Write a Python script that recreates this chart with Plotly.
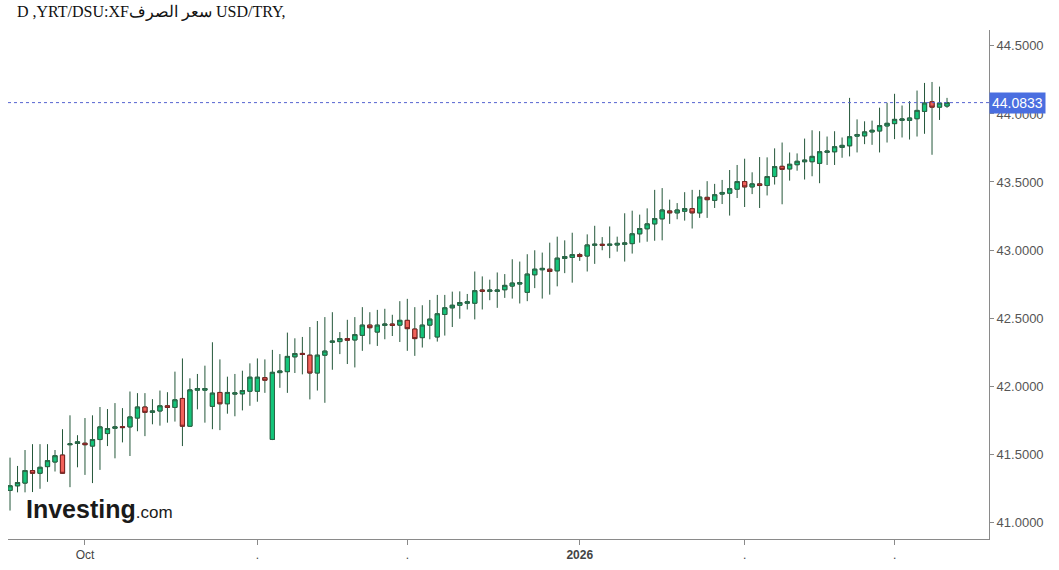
import pandas as pd
import plotly.graph_objects as go

# ---- data ----
dates = pd.bdate_range("2025-09-17", periods=126).strftime("%Y-%m-%d").tolist()

opens = [41.233, 41.267, 41.287, 41.379, 41.359, 41.408, 41.442, 41.493, 41.569, 41.578,
         41.580, 41.559, 41.607, 41.651, 41.690, 41.702, 41.700, 41.765, 41.846, 41.807,
         41.817, 41.855, 41.843, 41.909, 41.705, 41.970, 41.970, 41.851, 41.953, 41.870,
         41.941, 41.943, 41.962, 41.962, 42.062, 41.608, 42.099, 42.106, 42.215, 42.240,
         42.227, 42.096, 42.227, 42.322, 42.327, 42.349, 42.339, 42.373, 42.448, 42.397,
         42.446, 42.456, 42.448, 42.483, 42.419, 42.356, 42.448, 42.361, 42.526, 42.575,
         42.594, 42.609, 42.609, 42.706, 42.696, 42.696, 42.708, 42.735, 42.750, 42.689,
         42.818, 42.855, 42.859, 42.847, 42.938, 42.945, 42.966, 42.956, 43.035, 43.042,
         43.035, 43.037, 43.042, 43.047, 43.119, 43.156, 43.192, 43.229, 43.287, 43.273,
         43.285, 43.304, 43.273, 43.387, 43.365, 43.411, 43.418, 43.447, 43.503, 43.464,
         43.486, 43.474, 43.540, 43.615, 43.596, 43.627, 43.649, 43.649, 43.637, 43.718,
         43.722, 43.754, 43.766, 43.837, 43.839, 43.868, 43.875, 43.912, 43.929, 43.953,
         43.953, 43.965, 44.019, 44.089, 44.050, 44.058]

highs = [41.474, 41.413, 41.530, 41.573, 41.573, 41.573, 41.530, 41.683, 41.785, 41.639,
         41.765, 41.785, 41.846, 41.831, 41.875, 41.838, 41.960, 41.948, 41.948, 41.904,
         41.967, 41.955, 42.106, 42.203, 42.057, 42.089, 42.150, 42.322, 42.196, 42.069,
         42.089, 42.113, 42.167, 42.203, 42.196, 42.266, 42.235, 42.393, 42.351, 42.361,
         42.434, 42.478, 42.507, 42.543, 42.397, 42.487, 42.507, 42.580, 42.543, 42.560,
         42.568, 42.524, 42.624, 42.641, 42.580, 42.594, 42.633, 42.670, 42.670, 42.694,
         42.696, 42.677, 42.842, 42.806, 42.782, 42.835, 42.823, 42.932, 42.915, 42.969,
         42.998, 42.981, 43.054, 43.098, 43.071, 43.127, 42.979, 43.115, 43.178, 43.095,
         43.173, 43.098, 43.270, 43.289, 43.260, 43.306, 43.442, 43.455, 43.370, 43.345,
         43.425, 43.442, 43.442, 43.506, 43.486, 43.515, 43.588, 43.625, 43.671, 43.571,
         43.683, 43.681, 43.747, 43.790, 43.717, 43.710, 43.819, 43.880, 43.873, 43.834,
         43.873, 43.827, 44.118, 43.960, 43.946, 43.951, 44.046, 44.082, 44.148, 44.062,
         44.094, 44.172, 44.228, 44.235, 44.201, 44.118]

lows = [41.085, 41.219, 41.219, 41.221, 41.245, 41.296, 41.372, 41.355, 41.257, 41.403,
        41.347, 41.287, 41.384, 41.559, 41.469, 41.586, 41.486, 41.668, 41.632, 41.719,
        41.709, 41.731, 41.739, 41.559, 41.700, 41.829, 41.731, 41.683, 41.676, 41.797,
        41.778, 41.821, 41.855, 41.885, 41.950, 41.603, 41.987, 41.950, 42.096, 42.086,
        41.902, 41.967, 41.877, 42.120, 42.235, 42.162, 42.137, 42.259, 42.307, 42.295,
        42.344, 42.368, 42.324, 42.259, 42.222, 42.283, 42.344, 42.327, 42.371, 42.434,
        42.495, 42.563, 42.490, 42.563, 42.631, 42.575, 42.648, 42.643, 42.607, 42.624,
        42.720, 42.643, 42.672, 42.733, 42.830, 42.760, 42.920, 42.842, 42.898, 42.998,
        42.940, 42.988, 42.915, 42.974, 43.054, 43.061, 43.068, 43.071, 43.192, 43.226,
        43.216, 43.158, 43.236, 43.236, 43.309, 43.338, 43.253, 43.382, 43.316, 43.411,
        43.309, 43.401, 43.481, 43.336, 43.510, 43.583, 43.518, 43.542, 43.491, 43.625,
        43.625, 43.678, 43.688, 43.717, 43.778, 43.773, 43.717, 43.790, 43.815, 43.827,
        43.812, 43.834, 43.854, 43.700, 43.956, 44.045]

closes = [41.267, 41.291, 41.379, 41.359, 41.403, 41.452, 41.488, 41.359, 41.575, 41.590,
          41.569, 41.607, 41.700, 41.688, 41.700, 41.695, 41.773, 41.846, 41.807, 41.817,
          41.855, 41.843, 41.899, 41.705, 41.972, 41.982, 41.982, 41.948, 41.870, 41.953,
          41.950, 41.967, 42.065, 42.065, 42.043, 42.101, 42.111, 42.218, 42.239, 42.232,
          42.096, 42.227, 42.257, 42.330, 42.349, 42.337, 42.378, 42.448, 42.429, 42.448,
          42.456, 42.446, 42.483, 42.422, 42.349, 42.448, 42.492, 42.531, 42.575, 42.594,
          42.614, 42.619, 42.701, 42.697, 42.706, 42.706, 42.740, 42.757, 42.760, 42.823,
          42.859, 42.865, 42.842, 42.940, 42.952, 42.966, 42.952, 43.037, 43.042, 43.035,
          43.042, 43.049, 43.052, 43.119, 43.158, 43.192, 43.231, 43.294, 43.273, 43.294,
          43.304, 43.273, 43.389, 43.370, 43.406, 43.423, 43.450, 43.503, 43.464, 43.486,
          43.474, 43.540, 43.613, 43.593, 43.630, 43.652, 43.661, 43.688, 43.722, 43.727,
          43.759, 43.769, 43.832, 43.849, 43.868, 43.880, 43.914, 43.931, 43.960, 43.963,
          43.970, 44.026, 44.080, 44.050, 44.080, 44.0833]

x_tick_dates = ["2025-10-01", "2025-11-03", "2025-12-01", "2026-01-01", "2026-02-02", "2026-03-02"]
x_tick_text = ["Oct", ".", ".", "<b>2026</b>", ".", "."]
y_ticks = [41.0, 41.5, 42.0, 42.5, 43.0, 43.5, 44.0, 44.5]

title_text = "D ,YRT/DSU:XF\u200e\u0633\u0639\u0631 \u0627\u0644\u0635\u0631\u0641 USD/TRY,"

# ---- styling ----
WICK = "#24573a"
UP_FILL, UP_LINE = "#14c47a", "#2c6446"
DN_FILL, DN_LINE = "#f2625a", "#7c2222"
PRICE_BLUE = "#4a6ee0"
DOT_LINE = "#5663d0"

body_hi = [max(o, c) for o, c in zip(opens, closes)]
body_lo = [min(o, c) for o, c in zip(opens, closes)]

fig = go.Figure()
# wicks (full range)
fig.add_trace(go.Candlestick(
    x=dates, open=opens, high=highs, low=lows, close=closes,
    increasing=dict(line=dict(color=WICK, width=1), fillcolor=UP_FILL),
    decreasing=dict(line=dict(color=WICK, width=1), fillcolor=DN_FILL),
    hoverinfo="skip", showlegend=False,
))
# bodies with their own outlines
fig.add_trace(go.Candlestick(
    x=dates, open=opens, high=body_hi, low=body_lo, close=closes,
    increasing=dict(line=dict(color=UP_LINE, width=1), fillcolor=UP_FILL),
    decreasing=dict(line=dict(color=DN_LINE, width=1), fillcolor=DN_FILL),
    hoverinfo="skip", showlegend=False,
))

last = closes[-1]
fig.add_shape(type="line", xref="paper", x0=0, x1=1, yref="y", y0=last, y1=last,
              line=dict(color=DOT_LINE, width=1, dash="dot"))

fig.add_annotation(xref="paper", x=1, xanchor="left", yref="y", y=last,
                   text=f"{last:.4f}", showarrow=False,
                   font=dict(family="Liberation Sans, Arial, sans-serif", size=14, color="white"),
                   bgcolor=PRICE_BLUE, borderpad=2)

fig.add_annotation(xref="paper", yref="paper", x=0.007, y=1.035, xanchor="left", yanchor="middle",
                   text=title_text, showarrow=False,
                   font=dict(family="Liberation Serif, DejaVu Serif, serif", size=16, color="#111"))

fig.add_annotation(xref="paper", yref="paper", x=0.016, y=0.058, xanchor="left", yanchor="middle",
                   text="<b>Investing</b><span style='font-size:17px'>.com</span>", showarrow=False,
                   font=dict(family="Liberation Sans, Arial, sans-serif", size=25, color="#1a1a1a"))

fig.update_layout(
    width=1059, height=570,
    margin=dict(l=8, r=70, t=30, b=27),
    paper_bgcolor="white", plot_bgcolor="white",
    boxgap=0.2,
    xaxis=dict(type="category", range=[-0.27, 130.6], rangeslider=dict(visible=False),
               tickmode="array", tickvals=x_tick_dates, ticktext=x_tick_text,
               showgrid=False, zeroline=False, showline=True, linecolor="#8a8a8a", linewidth=1,
               ticks="outside", ticklen=5, tickcolor="#8a8a8a",
               tickfont=dict(family="Liberation Sans Narrow, Arial Narrow, Liberation Sans, sans-serif",
                             size=12, color="#444")),
    yaxis=dict(side="right", range=[40.876, 44.617], tickmode="array", tickvals=y_ticks,
               tickformat=".4f", showgrid=False, zeroline=False, showline=True,
               linecolor="#8a8a8a", linewidth=1, ticks="outside", ticklen=4, tickcolor="#8a8a8a",
               tickfont=dict(family="Liberation Sans, Arial, sans-serif", size=13, color="#555")),
)

# remove the page's default 8px body margin so the figure sits at the window's corner
fig.write_html("out.html",
               config={"displayModeBar": False},
               post_script="document.body.style.margin='0';document.body.style.overflow='hidden';")
